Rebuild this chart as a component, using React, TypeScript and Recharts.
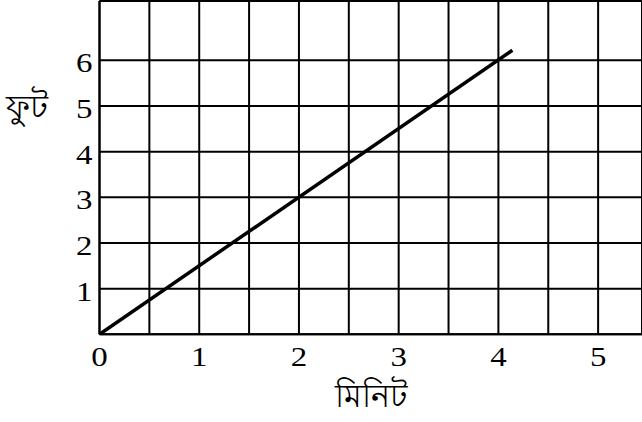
import React from 'react';
import { LineChart, Line, XAxis, YAxis, CartesianGrid, ReferenceLine } from 'recharts';

const minutes = [0, 4.14];
const feet = [0, 6.22];
const xTicks = [0, 0.5, 1, 1.5, 2, 2.5, 3, 3.5, 4, 4.5, 5];
const yTicks = [0, 1, 2, 3, 4, 5, 6];
const xMax = 5.44;
const yMax = 7.3;
const xTitle = 'মিনিট';
const yTitle = 'ফুট';

const data = minutes.map((m, i) => ({ minutes: m, feet: feet[i] }));

const FONT = 'Liberation Serif';
const TICK_SIZE = 27;
const STRETCH = 1.22;

const XTick = (props: any) => {
  const { x, y, payload } = props;
  const v = payload?.value as number;
  if (!Number.isInteger(v)) return null;
  return (
    <g transform={`translate(${x},${y}) scale(${STRETCH},1)`}>
      <text x={0} y={0} dy="0.71em" textAnchor="middle" fill="#000" fontSize={TICK_SIZE} fontFamily={FONT}>
        {String(v)}
      </text>
    </g>
  );
};

const YTick = (props: any) => {
  const { x, y, payload } = props;
  const v = payload?.value as number;
  if (v === 0) return null;
  return (
    <g transform={`translate(${x},${y + 2.5}) scale(${STRETCH},1)`}>
      <text x={0} y={0} dy="0.355em" textAnchor="end" fill="#000" fontSize={TICK_SIZE} fontFamily={FONT}>
        {String(v)}
      </text>
    </g>
  );
};

export default function App() {
  return (
    <div style={{ position: 'absolute', left: 0, top: 0, width: 642, height: 422, overflow: 'hidden', background: '#fff' }}>
      <LineChart width={642} height={422} data={data} margin={{ top: 1, right: 0, bottom: 0, left: 0 }}>
        <CartesianGrid stroke="#000" strokeWidth={2} strokeOpacity={1} />
        <XAxis
          dataKey="minutes"
          type="number"
          domain={[0, xMax]}
          ticks={xTicks}
          interval={0}
          allowDataOverflow
          height={87.7}
          tickLine={false}
          tickSize={0}
          tickMargin={12.7}
          axisLine={{ stroke: '#000', strokeWidth: 2 }}
          tick={<XTick />}
          label={{ value: xTitle, position: 'insideBottom', offset: 15, fill: '#000', fontSize: 32, fontFamily: FONT }}
        />
        <YAxis
          type="number"
          domain={[0, yMax]}
          ticks={yTicks}
          interval={0}
          allowDataOverflow
          width={99.5}
          tickLine={false}
          tickSize={0}
          tickMargin={7}
          axisLine={{ stroke: '#000', strokeWidth: 2 }}
          tick={<YTick />}
          label={{ value: yTitle, position: 'insideLeft', offset: 6, dy: -61, fill: '#000', fontSize: 33, fontFamily: FONT }}
        />
        <ReferenceLine y={yMax} stroke="#000" strokeWidth={2} ifOverflow="visible" />
        <Line
          type="linear"
          dataKey="feet"
          stroke="#000"
          strokeWidth={3.5}
          dot={false}
          activeDot={false}
          isAnimationActive={false}
        />
      </LineChart>
    </div>
  );
}
